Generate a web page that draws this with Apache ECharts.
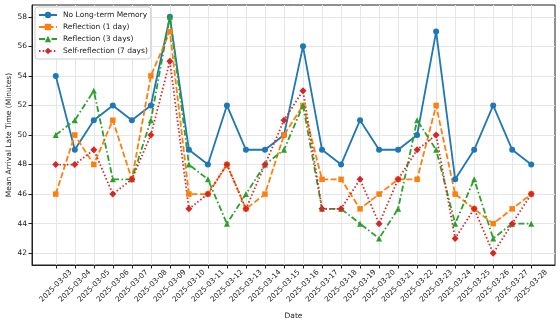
<!DOCTYPE html>
<html>
<head>
<meta charset="utf-8">
<script src="https://cdn.jsdelivr.net/npm/echarts@6/dist/echarts.min.js"></script>
<style>html,body{margin:0;padding:0;background:#fff}#c{width:560px;height:325px}</style>
</head>
<body>
<div id="c"></div>
<script>
const dates = ["2025-03-03","2025-03-04","2025-03-05","2025-03-06","2025-03-07","2025-03-08","2025-03-09","2025-03-10","2025-03-11","2025-03-12","2025-03-13","2025-03-14","2025-03-15","2025-03-16","2025-03-17","2025-03-18","2025-03-19","2025-03-20","2025-03-21","2025-03-22","2025-03-23","2025-03-24","2025-03-25","2025-03-26","2025-03-27","2025-03-28"];
const noMemory   = [54,49,51,52,51,52,58,49,48,52,49,49,50,56,49,48,51,49,49,50,57,47,49,52,49,48];
const reflect1   = [46,50,48,51,47,54,57,46,46,48,45,46,50,52,47,47,45,46,47,47,52,46,45,44,45,46];
const reflect3   = [50,51,53,47,47,51,58,48,47,44,46,48,49,52,45,45,44,43,45,51,49,44,47,43,44,44];
const selfReflect7 = [48,48,49,46,47,50,55,45,46,48,45,48,51,53,45,45,47,44,47,49,50,43,45,42,44,46];
const yTicks = [42,44,46,48,50,52,54,56,58];

const FONT = 'DejaVu Sans';
const xIdx = dates.map((d,i)=>i);
function pts(arr){ return arr.map((v,i)=>[i,v]); }

const chart = echarts.init(document.getElementById('c'), null, {renderer:'canvas'});
const common = {type:'line', animation:false, showSymbol:true};
chart.setOption({
  animation:false,
  backgroundColor:'#fff',
  grid:{left:32, right:5, top:5, bottom:60, show:true, borderColor:'#222', borderWidth:1, containLabel:false, outerBoundsMode:'none'},
  legend:{
    orient:'vertical', left:35, top:7,
    backgroundColor:'rgba(255,255,255,0.85)', borderColor:'#cccccc', borderWidth:1, borderRadius:3,
    padding:[4,3,4,3], itemGap:4, itemWidth:18, itemHeight:8,
    textStyle:{fontFamily:FONT, fontSize:7.5, color:'#222', padding:[0,0,0,1]},
    data:['No Long-term Memory','Reflection (1 day)','Reflection (3 days)','Self-reflection (7 days)']
  },
  xAxis:{
    type:'value', min:-1.25, max:dates.length-1+1.25,
    name:'Date', nameLocation:'middle', nameGap:47, nameMoveOverlap:false,
    nameTextStyle:{fontFamily:FONT, fontSize:7.5, color:'#222'},
    axisLine:{show:true, onZero:false, lineStyle:{color:'#222', width:1}},
    axisTick:{show:true, length:3.5, lineStyle:{color:'#222'}, customValues:xIdx},
    axisLabel:{customValues:xIdx, rotate:45, align:'center', verticalAlign:'middle', margin:21,
      fontFamily:FONT, fontSize:7.3, color:'#222', formatter:(v)=>dates[Math.round(v)]},
    splitLine:{show:true, lineStyle:{color:'#e6e6e6', width:1}}
  },
  yAxis:{
    type:'value', min:41.2, max:58.8,
    name:'Mean Arrival Late Time (Minutes)', nameLocation:'middle', nameGap:19, nameMoveOverlap:false,
    nameTextStyle:{fontFamily:FONT, fontSize:7.5, color:'#222'},
    axisLine:{show:true, onZero:false, lineStyle:{color:'#222', width:1}},
    axisTick:{show:true, length:3.5, lineStyle:{color:'#222'}, customValues:yTicks},
    axisLabel:{customValues:yTicks, margin:5, fontFamily:FONT, fontSize:7.5, color:'#222'},
    splitLine:{show:true, lineStyle:{color:'#e6e6e6', width:1}}
  },
  series:[
    Object.assign({}, common, {name:'No Long-term Memory', data:pts(noMemory), symbol:'circle', symbolSize:6,
      itemStyle:{color:'#1f77b4'}, lineStyle:{color:'#1f77b4', width:1.8, type:'solid'}}),
    Object.assign({}, common, {name:'Reflection (1 day)', data:pts(reflect1), symbol:'rect', symbolSize:5.5,
      itemStyle:{color:'#ff7f0e'}, lineStyle:{color:'#ff7f0e', width:1.8, type:[6,2.5]}}),
    Object.assign({}, common, {name:'Reflection (3 days)', data:pts(reflect3), symbol:'triangle', symbolSize:6,
      itemStyle:{color:'#2ca02c'}, lineStyle:{color:'#2ca02c', width:1.8, type:[6,2.5,1.5,2.5]}}),
    Object.assign({}, common, {name:'Self-reflection (7 days)', data:pts(selfReflect7), symbol:'path://M0,-1L1,0L0,1L-1,0Z', symbolSize:7,
      itemStyle:{color:'#d62728'}, lineStyle:{color:'#d62728', width:1.8, type:[1.5,2.2]}})
  ]
});
</script>
</body>
</html>
